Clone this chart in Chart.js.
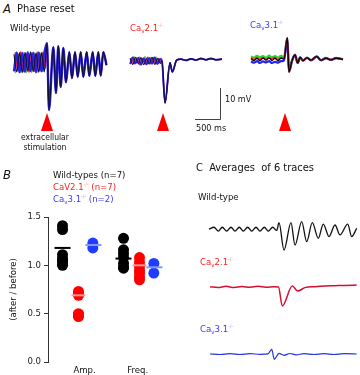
<!DOCTYPE html>
<html>
<head>
<meta charset="utf-8">
<script src="https://cdn.jsdelivr.net/npm/chart.js@4.4.0/dist/chart.umd.min.js"></script>
<style>
body { margin: 0; width: 360px; height: 375px; background: #fff; position: relative; overflow: hidden;
       font-family: 'DejaVu Sans Condensed', 'DejaVu Sans', sans-serif; color: #111; }
canvas { position: absolute; }
.t { position: absolute; white-space: nowrap; line-height: 1; }
sub { font-size: 65%; line-height: 0; vertical-align: -2px; }
sup { font-size: 55%; line-height: 0; vertical-align: 4px; opacity: .55; }
</style>
</head>
<body>
<canvas id="a1" width="120" height="120" style="left:0;top:20px"></canvas>
<canvas id="a2" width="118" height="120" style="left:122px;top:20px"></canvas>
<canvas id="a3" width="118" height="120" style="left:242px;top:20px"></canvas>
<canvas id="b" width="180" height="175" style="left:0;top:200px"></canvas>
<canvas id="c1" width="160" height="50" style="left:200px;top:205px"></canvas>
<canvas id="c2" width="160" height="45" style="left:200px;top:270px"></canvas>
<canvas id="c3" width="160" height="35" style="left:200px;top:335px"></canvas>

<div class="t" style="left:3px;top:2px;font-size:13px;font-style:italic">A</div>
<div class="t" style="left:17px;top:3px;font-size:11px">Phase reset</div>
<div class="t" style="left:10px;top:23px;font-size:9.5px">Wild-type</div>
<div class="t" style="left:130px;top:23px;font-size:9.5px;color:#ff2020">Ca<sub>v</sub>2.1<sup>-/-</sup></div>
<div class="t" style="left:250px;top:20px;font-size:9.5px;color:#3a3aff">Ca<sub>v</sub>3.1<sup>-/-</sup></div>
<div class="t" style="left:225px;top:95px;font-size:9px">10 mV</div>
<div class="t" style="left:196px;top:124px;font-size:9px">500 ms</div>
<div class="t" style="left:15px;top:132px;width:60px;text-align:center;font-size:8.5px;line-height:10px">extracellular<br>stimulation</div>

<div class="t" style="left:3px;top:168px;font-size:13px;font-style:italic">B</div>
<div class="t" style="left:53px;top:169px;font-size:9.5px;line-height:12px">Wild-types (n=7)<br><span style="color:#ff2020">CaV2.1<sup>-/-</sup> (n=7)</span><br><span style="color:#3a3aff">Ca<sub>v</sub>3.1<sup>-/-</sup> (n=2)</span></div>

<div class="t" style="left:196px;top:162px;font-size:11px">C&nbsp; Averages&nbsp; of 6 traces</div>
<div class="t" style="left:198px;top:192px;font-size:9.5px">Wild-type</div>
<div class="t" style="left:200px;top:257px;font-size:9.5px;color:#ff2020">Ca<sub>v</sub>2.1<sup>-/-</sup></div>
<div class="t" style="left:200px;top:324px;font-size:9.5px;color:#3a3aff">Ca<sub>v</sub>3.1<sup>-/-</sup></div>

<script>
// A: single sweeps. time in ms from the stimulus, voltage in mV from rest
var wtPreT = [-660, -605, -550, -495, -440, -385, -330, -275, -220, -165, -110, -55];
var wtPreT2 = [-635, -580, -525, -470, -415, -360, -305, -250, -195, -140, -85, -30];
var wtPreBlack = [2.5, -3.2, 3.0, -3.4, 3.1, -3.0, 3.3, -3.1, 2.9, -3.3, 3.0, -3.2];
var wtPreBlue = [-3.0, 3.1, -3.3, 2.9, -3.2, 3.2, -2.9, 3.0, -3.3, 3.1, -3.0, 2.8];
var wtPreRed = [3.1, -2.9, 3.3, -3.1, 2.8, -3.3, 3.0, -3.0, 3.2, -2.9, 3.1, -2.0];
var wtPreGreen = [-3.6, 2.7, -3.4, 3.0, -3.5, 2.7, -3.4, 2.9, -3.3, 3.1, -3.2, 2.0];
var wtPostT = [0, 40, 126, 180, 226, 274, 326, 380, 446, 500, 560, 614, 674, 726, 794, 846, 914, 966, 1026, 1074, 1126, 1190];
var wtPostV = [6.1, -15.5, 4.8, -10, 5.1, -8.1, 4.5, -6.5, 3.2, -5.2, 3.2, -4.8, 3.2, -4.8, 3.2, -4.5, 3.2, -4.5, 3.2, -4.4, 3.2, -1];

var cav2PreT = [-660, -605, -550, -495, -440, -385, -330, -275, -220, -165, -110, -55];
var cav2PreT2 = [-635, -580, -525, -470, -415, -360, -305, -250, -195, -140, -85, -30];
var cav2PreBlack = [0.9, -1.1, 1.2, -0.9, 1.1, -1.2, 0.8, -1.0, 1.2, -1.1, 0.9, -0.8];
var cav2PreBlue = [-1.0, 1.2, -0.8, 1.1, -1.2, 0.9, -1.1, 1.0, -0.9, 1.2, -1.0, 0.7];
var cav2PreRed = [1.1, -0.9, 1.0, -1.2, 0.8, -1.0, 1.2, -0.9, 1.1, -1.0, 0.8, -0.5];
var cav2PreGreen = [-0.6, 1.4, -0.7, 1.3, -0.5, 1.4, -0.8, 1.2, -0.6, 1.3, -0.7, 0.9];
var cav2PostT = [-20, 40, 140, 186, 274, 360, 460, 560, 660, 760, 860, 960, 1060, 1180];
var cav2PostV = [0, -13.5, -0.6, -3.5, 0.3, 0.6, 0.2, 0.7, 0.3, 0.8, 0.4, 0.8, 0.4, 0.6];

var cav3PreT = [-680, -620, -560, -500, -440, -380, -320, -260, -200, -140, -80, -20];
var cav3PreBlack = [0.2, -0.4, 0.3, -0.5, 0.4, -0.3, 0.5, -0.4, 0.3, -0.5, 0.4, 0.1];
var cav3PreBlue = [-0.7, -1.1, -0.6, -1.2, -0.7, -1.0, -0.6, -1.2, -0.8, -1.1, -0.6, -0.4];
var cav3PreRed = [0.4, -0.1, 0.5, 0.0, 0.6, -0.1, 0.4, 0.1, 0.6, -0.2, 0.5, 0.2];
var cav3PreGreen = [0.9, 0.5, 1.1, 0.6, 1.0, 0.4, 1.2, 0.6, 1.0, 0.5, 1.1, 0.6];
var cav3PostT = [46, 80, 140, 200, 254, 300, 360, 440, 520, 634, 720, 820, 920, 1020, 1160];
var cav3PostV = [6.8, -4.0, -0.5, 1.4, -1.2, 0.6, -0.4, 0.5, -0.3, 0.9, -0.3, 0.4, -0.2, 0.4, 0.0];

// B: ratio after / before stimulation
var groups = ['Amp.', 'Freq.'];
var wtAmp = [1.41, 1.37, 1.11, 1.07, 1.05, 1.03, 1.00];
var wtFreq = [1.28, 1.16, 1.12, 1.08, 1.02, 0.98, 0.97];
var cav2Amp = [0.73, 0.71, 0.69, 0.50, 0.49, 0.48, 0.47];
var cav2Freq = [1.08, 1.03, 0.99, 0.95, 0.92, 0.88, 0.85];
var cav3Amp = [1.23, 1.18];
var cav3Freq = [1.02, 0.92];
var wtMean = [1.18, 1.07];
var cav2Mean = [0.69, 1.00];
var cav3Mean = [1.21, 0.98];
var yTicks = [0, 0.5, 1.0, 1.5];

// C: averages of 6 traces
var avgWtT = [-700, -650, -607, -567, -523, -480, -440, -397, -357, -313, -273, -230, -190, -147, -107, -63, -23, 0, 50, 120, 160, 227, 277, 333, 393, 443, 500, 560, 610, 687, 727, 777];
var avgWtV = [0.3, 1.4, -1.0, 1.4, -1.0, 1.4, -1.0, 1.4, -1.0, 1.4, -1.0, 1.4, -1.0, 1.4, -1.0, 1.4, -0.6, 4.3, -12.8, 4.3, -9.7, 4.9, -7.6, 4.3, -5.5, 3.4, -4.4, 2.8, -3.4, 3.4, -4.4, 0.8];
var avgCav2T = [-690, -610, -530, -450, -370, -290, -210, -130, -50, -5, 33, 133, 187, 260, 360, 460, 560, 660, 777];
var avgCav2V = [0.2, -0.3, 0.4, -0.3, 0.3, -0.2, 0.4, -0.2, 0.2, 0, -11.9, 0.6, -2.5, -0.4, 0.2, 0.6, 0.8, 1.0, 1.2];
var avgCav3T = [-690, -590, -490, -390, -290, -190, -110, -73, -47, 0, 50, 110, 170, 250, 350, 450, 550, 650, 777];
var avgCav3V = [0, -0.3, 0.2, -0.3, 0.2, -0.2, 0.1, 2.9, -3.3, 0.4, -0.8, 0.3, -0.5, 0.2, -0.3, 0.2, -0.3, 0.2, 0];

var FONT = "'DejaVu Sans Condensed', 'DejaVu Sans', sans-serif";

// red triangle under the stimulus time
var stimPlugin = {
    id: 'stim',
    afterDraw: function (chart, args, o) {
        var x = chart.scales.x.getPixelForValue(0);
        var ctx = chart.ctx;
        ctx.save();
        ctx.fillStyle = '#ff0000';
        ctx.beginPath();
        ctx.moveTo(x, o.top);
        ctx.lineTo(x + o.w / 2, o.top + o.h);
        ctx.lineTo(x - o.w / 2, o.top + o.h);
        ctx.closePath();
        ctx.fill();
        ctx.restore();
    }
};

// 10 mV / 500 ms calibration bar
var barPlugin = {
    id: 'scaleBar',
    afterDraw: function (chart, args, o) {
        var sx = chart.scales.x, sy = chart.scales.y;
        var x = sx.getPixelForValue(o.t), y = sy.getPixelForValue(o.mv);
        var ctx = chart.ctx;
        ctx.save();
        ctx.strokeStyle = '#444';
        ctx.lineWidth = 1;
        ctx.beginPath();
        ctx.moveTo(Math.round(x) + 0.5, sy.getPixelForValue(o.mv + o.mvLen));
        ctx.lineTo(Math.round(x) + 0.5, Math.round(y) + 0.5);
        ctx.lineTo(sx.getPixelForValue(o.t - o.msLen), Math.round(y) + 0.5);
        ctx.stroke();
        ctx.restore();
    }
};

function sweep(preT, preV, postT, postV, color, width) {
    var pts = [];
    preT.forEach(function (t, i) { pts.push({ x: t, y: preV[i] }); });
    postT.forEach(function (t, i) { pts.push({ x: t, y: postV[i] }); });
    return { data: pts, borderColor: color, borderWidth: width, fill: false };
}

function traceChart(id, datasets, g) {
    var c = document.getElementById(id);
    var w = c.width, h = c.height;
    return new Chart(c, {
        type: 'line',
        data: { datasets: datasets },
        options: {
            responsive: false,
            animation: false,
            devicePixelRatio: 1,
            events: [],
            layout: { padding: 0 },
            plugins: {
                legend: { display: false },
                tooltip: { enabled: false },
                stim: g.tri || false,
                scaleBar: g.bar || false
            },
            elements: {
                point: { radius: 0 },
                line: { cubicInterpolationMode: 'monotone', borderJoinStyle: 'round' }
            },
            scales: {
                x: { type: 'linear', display: false, min: -g.x0 * g.msPerPx, max: (w - g.x0) * g.msPerPx },
                y: { type: 'linear', display: false, min: (g.y0 - h) / g.pxPerMv, max: g.y0 / g.pxPerMv }
            }
        },
        plugins: [stimPlugin, barPlugin]
    });
}

var tri = { top: 93, h: 18, w: 12 };

traceChart('a1', [
    sweep(wtPreT, wtPreBlack, wtPostT, wtPostV, '#10103a', 1.2),
    sweep(wtPreT, wtPreBlue, wtPostT, wtPostV, '#2a20e8', 2.4),
    sweep(wtPreT2, wtPreRed, wtPostT, wtPostV, '#e0206a', 1.6),
    sweep(wtPreT2, wtPreGreen, wtPostT, wtPostV, '#44cc33', 1.3)
], { x0: 47, y0: 42, msPerPx: 20, pxPerMv: 3.1, tri: tri });

traceChart('a2', [
    sweep(cav2PreT, cav2PreBlack, cav2PostT, cav2PostV, '#10103a', 1.1),
    sweep(cav2PreT, cav2PreBlue, cav2PostT, cav2PostV, '#2a20e8', 1.8),
    sweep(cav2PreT2, cav2PreRed, cav2PostT, cav2PostV, '#e0206a', 1.5),
    sweep(cav2PreT2, cav2PreGreen, cav2PostT, cav2PostV, '#55cc33', 1.3)
], { x0: 41, y0: 41, msPerPx: 20, pxPerMv: 3.1, tri: tri,
     bar: { t: 1140, mv: -18.7, mvLen: 10, msLen: 500 } });

traceChart('a3', [
    sweep(cav3PreT, cav3PreBlack, cav3PostT, cav3PostV, '#000000', 1.2),
    sweep(cav3PreT, cav3PreRed, cav3PostT, cav3PostV, '#ff2020', 1.6),
    sweep(cav3PreT, cav3PreBlue, cav3PostT, cav3PostV, '#2020ff', 2.2),
    sweep(cav3PreT, cav3PreGreen, cav3PostT, cav3PostV, '#33cc33', 2.4)
], { x0: 43, y0: 39.3, msPerPx: 20, pxPerMv: 3.1, tri: tri });

traceChart('c1', [sweep(avgWtT, avgWtV, [], [], '#111111', 1.3)],
    { x0: 79, y0: 24.5, msPerPx: 10, pxPerMv: 1.6 });
traceChart('c2', [sweep(avgCav2T, avgCav2V, [], [], '#d41030', 1.5)],
    { x0: 79, y0: 17, msPerPx: 10, pxPerMv: 1.6 });
traceChart('c3', [sweep(avgCav3T, avgCav3V, [], [], '#2436d8', 1.2)],
    { x0: 79, y0: 19, msPerPx: 10, pxPerMv: 1.6 });

// panel B scatter
var offWt = -0.262, offCav2 = 0, offCav3 = 0.235;
function dots(amp, freq, off) {
    var pts = [];
    amp.forEach(function (v) { pts.push({ x: 1 + off, y: v }); });
    freq.forEach(function (v) { pts.push({ x: 2 + off, y: v }); });
    return pts;
}
function means(m, off) {
    return m.map(function (v, i) { return { x: i + 1 + off, y: v }; });
}

new Chart(document.getElementById('b'), {
    type: 'scatter',
    data: {
        datasets: [
            { data: means(cav3Mean, offCav3 + 0.01), pointStyle: 'line', pointRadius: 8, borderWidth: 2, borderColor: '#7a9cff' },
            { data: means(cav2Mean, offCav2), pointStyle: 'line', pointRadius: 7, borderWidth: 2, borderColor: '#ff9a9a' },
            { data: means(wtMean, offWt), pointStyle: 'line', pointRadius: 8, borderWidth: 2, borderColor: '#000000' },
            { data: dots(cav3Amp, cav3Freq, offCav3), pointRadius: 5.5, borderWidth: 0, backgroundColor: '#1f3cff' },
            { data: dots(cav2Amp, cav2Freq, offCav2), pointRadius: 5.5, borderWidth: 0, backgroundColor: '#ff0000' },
            { data: dots(wtAmp, wtFreq, offWt), pointRadius: 5.5, borderWidth: 0, backgroundColor: '#000000' }
        ]
    },
    options: {
        responsive: false,
        animation: false,
        devicePixelRatio: 1,
        events: [],
        layout: { padding: { top: 17, right: 10, bottom: 0, left: 0 } },
        plugins: { legend: { display: false }, tooltip: { enabled: false } },
        scales: {
            x: {
                type: 'linear', min: 0.5, max: 2.5,
                afterBuildTicks: function (s) { s.ticks = [{ value: 1.1 }, { value: 1.97 }]; },
                afterFit: function (s) { s.height = 13; },
                grid: { display: false, drawTicks: false },
                border: { display: false },
                ticks: {
                    padding: 3, color: '#111', maxRotation: 0, autoSkip: false,
                    font: { family: FONT, size: 9.5 },
                    callback: function (v, i) { return groups[i]; }
                }
            },
            y: {
                min: 0, max: 1.5,
                afterBuildTicks: function (s) { s.ticks = yTicks.map(function (v) { return { value: v }; }); },
                afterFit: function (s) { s.width = 48; },
                grid: { display: true, drawOnChartArea: false, tickLength: 4, color: '#333' },
                border: { display: true, color: '#333', width: 1 },
                ticks: {
                    padding: 3, color: '#222',
                    font: { family: FONT, size: 9.5 },
                    callback: function (v) { return v.toFixed(1); }
                },
                title: {
                    display: true, text: '(after / before)', color: '#111',
                    font: { family: FONT, size: 9.5 }, padding: { top: 8, bottom: 0 }
                }
            }
        }
    }
});
</script>
</body>
</html>
